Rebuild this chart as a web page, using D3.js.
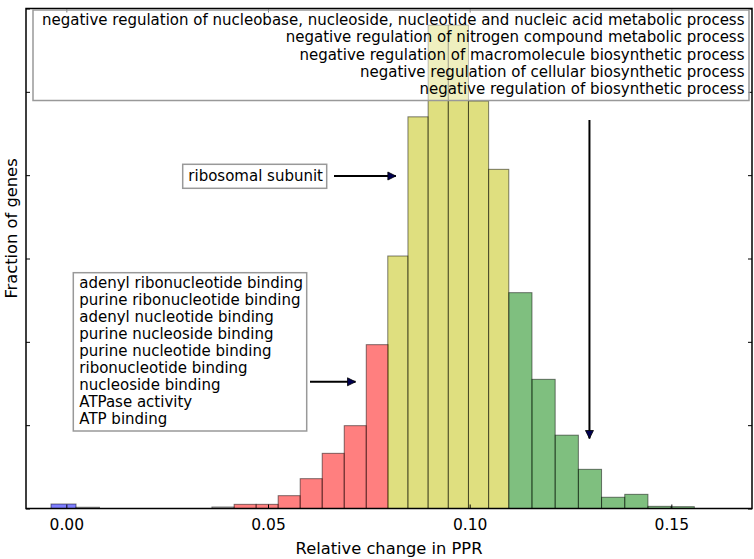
<!DOCTYPE html>
<html><head><meta charset="utf-8">
<script src="https://cdn.jsdelivr.net/npm/d3@7"></script>
<style>html,body{margin:0;padding:0;background:#fff;}svg{display:block;font-family:"DejaVu Sans",sans-serif;}</style>
</head><body>
<svg id="chart" width="754" height="559"></svg>
<script>
// ---- data ----
const blueStart = -0.0038, blueWidth = 0.0062;
const blueHeights = [0.54];
const grayStarts = [0.0024, 0.0361];
const grayWidths = [0.0058, 0.0055];
const grayHeights = [0.15, 0.18];
const redStart = 0.0416, redWidth = 0.00546;
const redHeights = [0.5, 0.5, 1.54, 3.58, 6.62, 9.94, 19.66];
const yellowStart = 0.0797, yellowWidth = 0.005;
const yellowHeights = [30.3, 47.0, 58.0, 58.0, 48.9, 40.7];
const greenStart = 0.1097, greenWidth = 0.00575;
const greenHeights = [25.9, 15.5, 8.8, 4.7, 1.35, 1.7, 0.26, 0.22];
const xTicks = [0.00, 0.05, 0.10, 0.15];
const yTicks = [0, 10, 20, 30, 40, 50, 60];
const topLabels = [
  "negative regulation of nucleobase, nucleoside, nucleotide and nucleic acid metabolic process",
  "negative regulation of nitrogen compound metabolic process",
  "negative regulation of macromolecule biosynthetic process",
  "negative regulation of cellular biosynthetic process",
  "negative regulation of biosynthetic process"];
const midLabels = ["ribosomal subunit"];
const leftLabels = ["adenyl ribonucleotide binding","purine ribonucleotide binding","adenyl nucleotide binding",
  "purine nucleoside binding","purine nucleotide binding","ribonucleotide binding","nucleoside binding",
  "ATPase activity","ATP binding"];
const xLabel = "Relative change in PPR";
const yLabel = "Fraction of genes";

// ---- build bars ----
function series(start, width, heights, color){
  return heights.map((h,i)=>({x0:start+i*width, x1:start+(i+1)*width, h, color}));
}
const bars = [].concat(
  series(blueStart, blueWidth, blueHeights, "#0000ff"),
  grayStarts.map((s,i)=>({x0:s, x1:s+grayWidths[i], h:grayHeights[i], color:"#808080"})),
  series(redStart, redWidth, redHeights, "#ff0000"),
  series(yellowStart, yellowWidth, yellowHeights, "#bfbf00"),
  series(greenStart, greenWidth, greenHeights, "#008000")
);

const L=26, R=752, T=8.5, B=508.5;
const svg = d3.select("#chart");
const x = d3.scaleLinear().domain([-0.01, 0.17]).range([L, R]);
const y = d3.scaleLinear().domain([0, 60]).range([B, T]);

svg.append("g").selectAll("rect").data(bars).join("rect")
  .attr("x", d=>x(d.x0)).attr("y", d=>y(d.h))
  .attr("width", d=>x(d.x1)-x(d.x0)).attr("height", d=>y(0)-y(d.h))
  .attr("fill", d=>d.color).attr("fill-opacity",0.5)
  .attr("stroke","#000").attr("stroke-opacity",0.5).attr("stroke-width",1);

// axes (ticks inward on all sides)
const tl = 4;
const xb = svg.append("g").attr("transform",`translate(0,${B})`)
  .call(d3.axisBottom(x).tickValues(xTicks).tickFormat(d3.format(".2f")).tickSizeInner(-tl).tickSizeOuter(0).tickPadding(10));
const xt = svg.append("g").attr("transform",`translate(0,${T})`)
  .call(d3.axisTop(x).tickValues(xTicks).tickFormat("").tickSizeInner(-tl).tickSizeOuter(0));
const yl = svg.append("g").attr("transform",`translate(${L},0)`)
  .call(d3.axisLeft(y).tickValues(yTicks).tickFormat("").tickSizeInner(-tl).tickSizeOuter(0));
const yr = svg.append("g").attr("transform",`translate(${R},0)`)
  .call(d3.axisRight(y).tickValues(yTicks).tickFormat("").tickSizeInner(-tl).tickSizeOuter(0));
[xb,xt,yl,yr].forEach(g=>{g.select(".domain").remove(); g.selectAll("line").attr("stroke","#000").attr("stroke-width",1);});
xb.selectAll("text").attr("font-size",15.5).attr("font-family","DejaVu Sans").attr("fill","#000");
svg.append("rect").attr("x",L).attr("y",T).attr("width",R-L).attr("height",B-T)
  .attr("fill","none").attr("stroke","#000").attr("stroke-width",1.5);

// labels
svg.append("text").attr("x",(L+R)/2).attr("y",554).attr("text-anchor","middle")
  .attr("font-size",16.3).text(xLabel);
svg.append("text").attr("transform",`translate(17,${(T+B)/2-30}) rotate(-90)`).attr("text-anchor","middle")
  .attr("font-size",16.3).text(yLabel);

// annotation boxes
function box(x0,y0,x1,y1){
  svg.append("rect").attr("x",x0).attr("y",y0).attr("width",x1-x0).attr("height",y1-y0)
    .attr("fill","#fff").attr("fill-opacity",0.5).attr("stroke","#999").attr("stroke-width",1.5);
}
box(33,10,749,100.5);
svg.append("g").selectAll("text").data(topLabels).join("text")
  .attr("x",744.5).attr("y",(d,i)=>25+i*17.3).attr("text-anchor","end").attr("font-size",15).text(d=>d);

box(182.7,164.3,326.7,188.3);
svg.append("text").attr("x",188.3).attr("y",181).attr("font-size",15).text(midLabels[0]);

box(73.3,272.7,306.7,431);
svg.append("g").selectAll("text").data(leftLabels).join("text")
  .attr("x",79.3).attr("y",(d,i)=>288.3+i*16.9).attr("font-size",15).text(d=>d);

// arrows
function arrow(x0,y0,x1,y1){
  svg.append("line").attr("x1",x0).attr("y1",y0).attr("x2",x1).attr("y2",y1)
    .attr("stroke","#000").attr("stroke-width",2);
  const a = Math.atan2(y1-y0,x1-x0), len=8, w=4;
  const p = [[x1,y1],[x1-len*Math.cos(a)+w*Math.sin(a), y1-len*Math.sin(a)-w*Math.cos(a)],
             [x1-len*Math.cos(a)-w*Math.sin(a), y1-len*Math.sin(a)+w*Math.cos(a)]];
  svg.append("path").attr("d","M"+p.map(q=>q.join(",")).join("L")+"Z").attr("fill","#000050").attr("stroke","#000").attr("stroke-width",0.8);
}
arrow(334, 176, x(0.0817), y(39.9));
arrow(310, 381.7, x(0.0717), y(15.2));
arrow(x(0.1297), 120, x(0.1297), y(8.4));
</script>
</body></html>
